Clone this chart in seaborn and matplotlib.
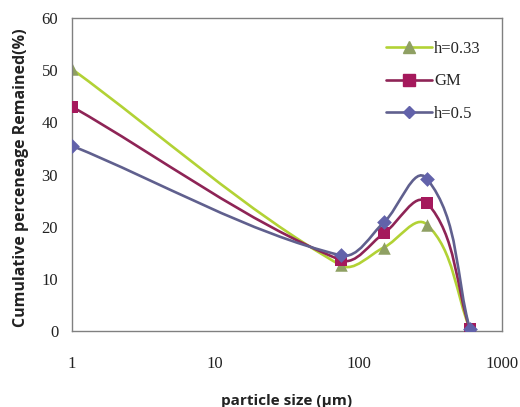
import numpy as np
import pandas as pd
import seaborn as sns
import matplotlib.pyplot as plt
from matplotlib.path import Path
from matplotlib.patches import PathPatch
from matplotlib.lines import Line2D

# datos
particle_size = [1, 75, 150, 300, 600]
h033 = [50.2, 12.6, 16.0, 20.4, 0.3]
gm = [43.0, 13.6, 18.7, 24.6, 0.3]
h05 = [35.5, 14.5, 20.8, 29.2, 0.3]

series_names = ["h=0.33", "GM", "h=0.5"]
line_colors = ["#B2D235", "#8E2456", "#60608E"]
marker_colors = ["#8FA063", "#A5195C", "#6262AA"]
markers = ["^", "s", "D"]
msizes = [9, 9, 7.5]

df = pd.DataFrame({
    "size": particle_size * 3,
    "value": h033 + gm + h05,
    "serie": sum([[n] * len(particle_size) for n in series_names], []),
})

sns.set_style("white")
plt.rcParams["font.family"] = ["Liberation Serif", "DejaVu Serif"]

fig = plt.figure(figsize=(5.2, 4.07), dpi=100)
ax = fig.add_axes([0.1385, 0.1867, 0.8265, 0.7691])
ax.set_xscale("log")

# escala aproximada en pixeles: 143 px por decada, 5.2 px por unidad
SX, SY = 143.0, 5.2


def smooth_path(xs, ys, k=1/3):
    # curva suavizada tipo Excel, tangente normalizada por longitud de tramo
    pts = np.column_stack([np.log10(xs) * SX, np.asarray(ys) * SY])
    n = len(pts)
    tang = []
    for i in range(n):
        d = pts[min(i + 1, n - 1)] - pts[max(i - 1, 0)]
        tang.append(d / np.linalg.norm(d))
    verts = [pts[0]]
    codes = [Path.MOVETO]
    for i in range(n - 1):
        seg = np.linalg.norm(pts[i + 1] - pts[i])
        c1 = pts[i] + tang[i] * seg * k
        c2 = pts[i + 1] - tang[i + 1] * seg * k
        verts += [c1, c2, pts[i + 1]]
        codes += [Path.CURVE4] * 3
    verts = np.array(verts)
    verts[:, 0] = 10 ** (verts[:, 0] / SX)
    verts[:, 1] = verts[:, 1] / SY
    return Path(verts, codes)


for i, name in enumerate(series_names):
    sub = df[df["serie"] == name]
    patch = PathPatch(smooth_path(sub["size"].values, sub["value"].values),
                      facecolor="none", edgecolor=line_colors[i], lw=1.9,
                      transform=ax.transData, zorder=2 + i)
    ax.add_patch(patch)
    sns.scatterplot(data=sub, x="size", y="value", marker=markers[i],
                    color=marker_colors[i], s=msizes[i] ** 2, edgecolor=marker_colors[i],
                    linewidth=0, ax=ax, zorder=2.5 + i, legend=False)

ax.set_xlim(1, 1000)
ax.set_ylim(0, 60)
ax.set_xticks([1, 10, 100, 1000])
ax.set_xticklabels(["1", "10", "100", "1000"])
ax.xaxis.set_minor_locator(plt.NullLocator())
ax.set_yticks(range(0, 61, 10))
ax.tick_params(axis="both", direction="in", length=4, width=1, color="#808080",
               labelsize=12, labelcolor="#222222")
ax.tick_params(axis="x", pad=18)
ax.tick_params(axis="y", pad=10)
for sp in ax.spines.values():
    sp.set_color("#808080")
    sp.set_linewidth(1)

ax.set_xlabel("particle size (\u03bcm)", family=["Open Sans", "DejaVu Sans"],
              fontweight="bold", fontsize=11, color="#222222")
ax.xaxis.set_label_coords(0.5, -0.2)
ax.set_ylabel("Cumulative perceneage Remained(%)", family=["Open Sans", "DejaVu Sans"],
              fontweight="bold", fontsize=11.5, color="#222222")
ax.yaxis.set_label_coords(-0.10, 0.49)

handles = [Line2D([], [], color=line_colors[i], lw=1.9, marker=markers[i],
                  markersize=msizes[i] - 1, markerfacecolor=marker_colors[i],
                  markeredgecolor=marker_colors[i]) for i in range(3)]
ax.legend(handles, series_names, loc="upper left", bbox_to_anchor=(0.695, 0.975),
          frameon=False, fontsize=12, handlelength=2.8, handletextpad=0.1,
          labelspacing=1.0)

fig.savefig("out.png", dpi=100)
